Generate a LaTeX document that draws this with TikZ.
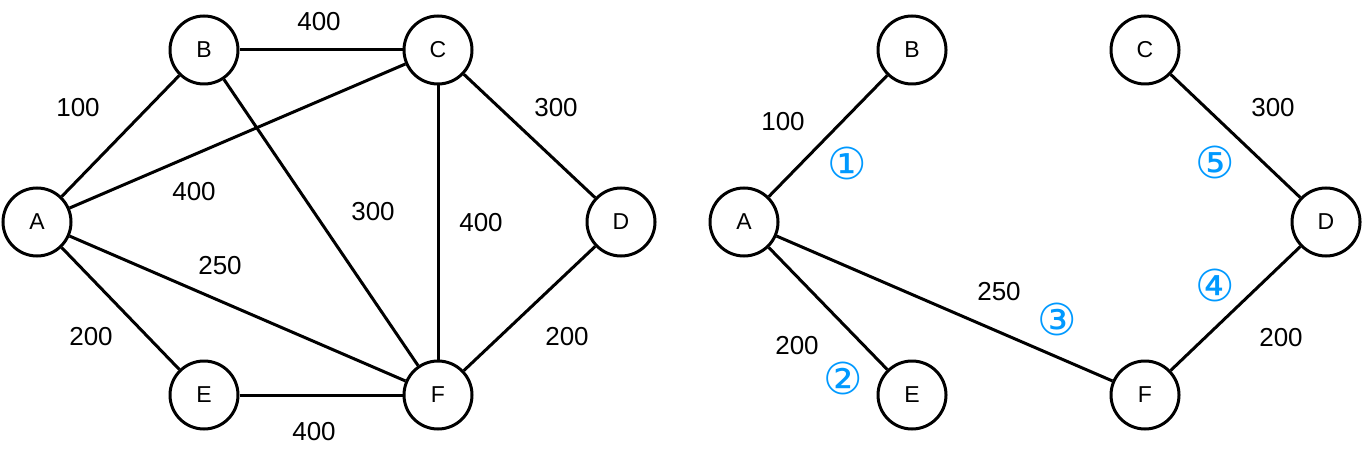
\documentclass[tikz,border=0pt]{standalone}
\usepackage{fontspec}
\setmainfont{Liberation Sans}
\newfontfamily\circfont{DejaVu Sans}
\usepackage{xcolor}
\usepackage{tikz}
\usetikzlibrary{positioning,calc}
\definecolor{StepBlue}{RGB}{0,153,255}
\tikzset{
    vertex/.style={circle, draw=black, line width=1.5pt, fill=white, minimum size=34pt, inner sep=0pt, font=\fontsize{11.5}{12}\selectfont},
    wedge/.style={draw=black, line width=1.5pt},
    weight/.style={inner sep=0pt, font=\fontsize{13}{14}\selectfont},
    order/.style={inner sep=0pt, text=StepBlue, font=\circfont\fontsize{22}{23}\selectfont}
}
\begin{document}
\begin{tikzpicture}[x=0.5pt, y=-0.5pt]
        \useasboundingbox (0,0) rectangle (1363,454);

        % --- ĐỒ THỊ BAN ĐẦU ---
        % Các đỉnh
        \node[vertex] (gA) at (37,222)  {A};
        \node[vertex] (gB) at (204,50)  {B};
        \node[vertex] (gC) at (438,50)  {C};
        \node[vertex] (gD) at (621,222) {D};
        \node[vertex] (gE) at (204,395) {E};
        \node[vertex] (gF) at (438,395) {F};

        % Các cạnh
        \draw[wedge] (gA) -- (gB);
        \draw[wedge] (gA) -- (gC);
        \draw[wedge] (gA) -- (gF);
        \draw[wedge] (gA) -- (gE);
        \draw[wedge] (gB) -- (gC);
        \draw[wedge] (gB) -- (gF);
        \draw[wedge] (gC) -- (gF);
        \draw[wedge] (gC) -- (gD);
        \draw[wedge] (gD) -- (gF);
        \draw[wedge] (gE) -- (gF);

        % Trọng số
        \node[weight] (wBC) at (319,22)  {400};
        \node[weight] (wAB) at (78,108)  {100};
        \node[weight] (wAC) at (194,192) {400};
        \node[weight] (wBF) at (373,212) {300};
        \node[weight] (wCF) at (481,223) {400};
        \node[weight] (wCD) at (556,108) {300};
        \node[weight] (wAF) at (220,266) {250};
        \node[weight] (wAE) at (91,337)  {200};
        \node[weight] (wDF) at (567,337) {200};
        \node[weight] (wEF) at (314,432) {400};

        % --- CÂY KHUNG NHỎ NHẤT ---
        % Các đỉnh
        \node[vertex] (tA) at (744,222)  {A};
        \node[vertex] (tB) at (912,50)   {B};
        \node[vertex] (tC) at (1145,50)  {C};
        \node[vertex] (tD) at (1326,222) {D};
        \node[vertex] (tE) at (912,395)  {E};
        \node[vertex] (tF) at (1145,395) {F};

        % Các cạnh được chọn
        \draw[wedge] (tA) -- (tB);
        \draw[wedge] (tA) -- (tE);
        \draw[wedge] (tA) -- (tF);
        \draw[wedge] (tF) -- (tD);
        \draw[wedge] (tC) -- (tD);

        % Trọng số
        \node[weight] (vAB) at (783,122)  {100};
        \node[weight] (vAE) at (797,346)  {200};
        \node[weight] (vAF) at (999,292)  {250};
        \node[weight] (vCD) at (1273,108) {300};
        \node[weight] (vDF) at (1281,338) {200};

        % Thứ tự chọn cạnh
        \node[order] (s1) at (847,163)  {①};
        \node[order] (s2) at (843,378)  {②};
        \node[order] (s3) at (1057,319) {③};
        \node[order] (s4) at (1215,285) {④};
        \node[order] (s5) at (1215,162) {⑤};

    \end{tikzpicture}
\end{document}
